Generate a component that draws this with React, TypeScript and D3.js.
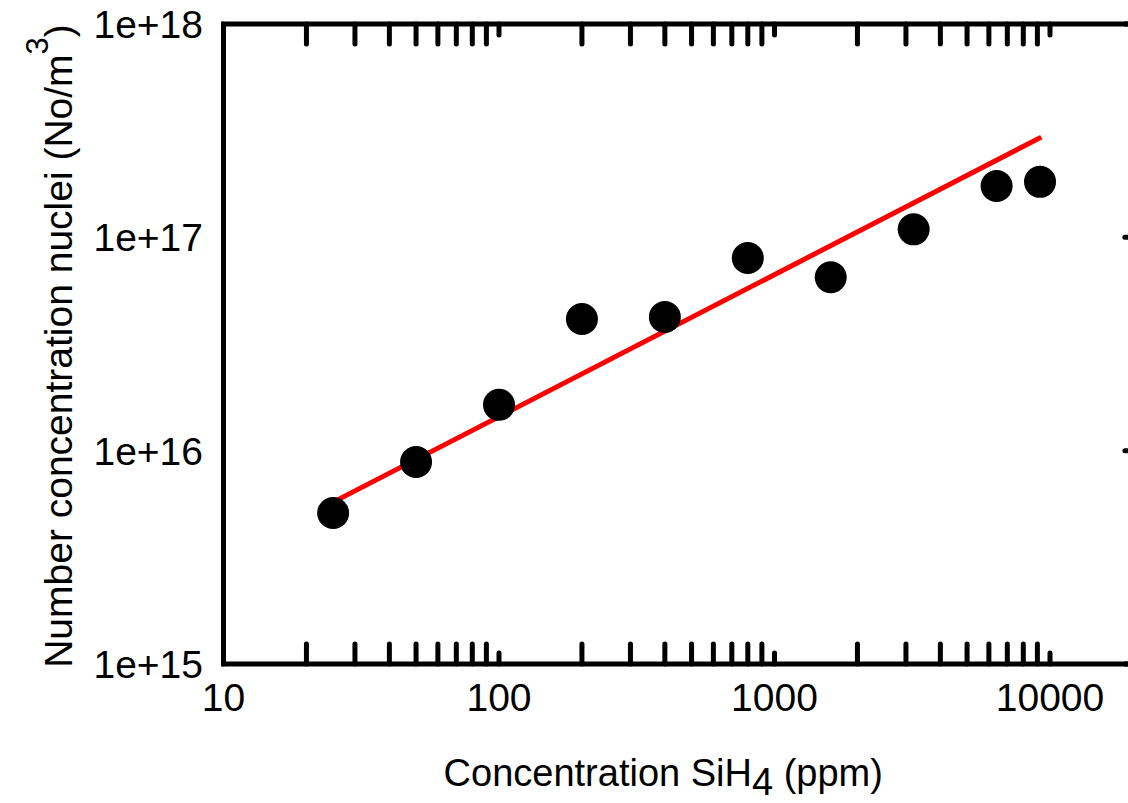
import React from "react";
import * as d3 from "d3";

const silaneConc = [25, 50, 100, 200, 400, 800, 1600, 3200, 6400, 9200];
const nucleiConc = [5.1e15, 8.85e15, 1.64e16, 4.14e16, 4.23e16, 8.0e16, 6.5e16, 1.09e17, 1.74e17, 1.82e17];
const fitX = [25, 9300];
const fitY = [5.74e15, 2.95e17];
const xTickLabels = ["10", "100", "1000", "10000"];
const xTickValues = [10, 100, 1000, 10000];
const yTickLabels = ["1e+15", "1e+16", "1e+17", "1e+18"];
const yTickValues = [1e15, 1e16, 1e17, 1e18];
const xDomainMax = 20500;

const W = 1128;
const H = 803;
const FONT = "'Liberation Sans', Arial, sans-serif";

export default function App() {
  const x = d3.scaleLog().domain([10, 10000]).range([223.5, 1050]);
  const y = d3.scaleLog().domain([1e15, 1e18]).range([664, 24]);
  const left = x(10);
  const right = x(xDomainMax);
  const top = y(1e18);
  const bottom = y(1e15);

  const minorX: number[] = [];
  for (const dec of [10, 100, 1000, 10000]) {
    for (let m = 2; m <= 9; m++) minorX.push(dec * m);
  }
  const minorVis = minorX.filter((v) => x(v) < right);
  const line = d3
    .line<number>()
    .x((_, i) => x(fitX[i]))
    .y((d) => y(d));

  const tickW = 5;
  const minorLen = 20;
  const majorLen = 11;

  return (
    <svg
      width={W}
      height={H}
      style={{ position: "absolute", left: 0, top: 0, background: "#fff" }}
    >
      <rect x={0} y={0} width={W} height={H} fill="#fff" />
      {minorVis.map((v) => (
        <g key={"mx" + v}>
          <line x1={x(v)} x2={x(v)} y1={bottom} y2={bottom - minorLen} stroke="#000" strokeWidth={tickW} strokeLinecap="round" />
          <line x1={x(v)} x2={x(v)} y1={top} y2={top + minorLen} stroke="#000" strokeWidth={tickW} strokeLinecap="round" />
        </g>
      ))}
      {xTickValues.map((v) => (
        <g key={"Mx" + v}>
          <line x1={x(v)} x2={x(v)} y1={bottom} y2={bottom - majorLen} stroke="#000" strokeWidth={tickW} strokeLinecap="round" />
          <line x1={x(v)} x2={x(v)} y1={top} y2={top + majorLen} stroke="#000" strokeWidth={tickW} strokeLinecap="round" />
        </g>
      ))}
      {yTickValues.map((v) => (
        <line key={"My" + v} x1={right} x2={right - majorLen} y1={y(v)} y2={y(v)} stroke="#000" strokeWidth={tickW} strokeLinecap="round" />
      ))}
      <rect x={left} y={top} width={right - left} height={bottom - top} fill="none" stroke="#000" strokeWidth={5} />

      <path d={line(fitY) || ""} fill="none" stroke="#ff0000" strokeWidth={5} />

      {silaneConc.map((c, i) => (
        <circle key={"p" + i} cx={x(c)} cy={y(nucleiConc[i])} r={16} fill="#000" />
      ))}

      {xTickValues.map((v, i) => (
        <text key={"xl" + v} x={x(v)} y={bottom + 47} textAnchor="middle" fontFamily={FONT} fontSize={39} fill="#000">
          {xTickLabels[i]}
        </text>
      ))}
      {yTickValues.map((v, i) => (
        <text key={"yl" + v} x={203} y={y(v) + 14} textAnchor="end" fontFamily={FONT} fontSize={39} fill="#000">
          {yTickLabels[i]}
        </text>
      ))}

      <text x={(left + 1103) / 2} y={786} textAnchor="middle" fontFamily={FONT} fontSize={38} fill="#000">
        Concentration SiH
        <tspan dy={9}>4</tspan>
        <tspan dy={-9}> (ppm)</tspan>
      </text>
      <text
        transform={`translate(72, ${(top + bottom) / 2 + 2}) rotate(-90)`}
        textAnchor="middle"
        fontFamily={FONT}
        fontSize={39}
        fill="#000"
      >
        Number concentration nuclei (No/m
        <tspan dy={-24} fontSize={31}>3</tspan>
        <tspan dy={24}>)</tspan>
      </text>
    </svg>
  );
}
